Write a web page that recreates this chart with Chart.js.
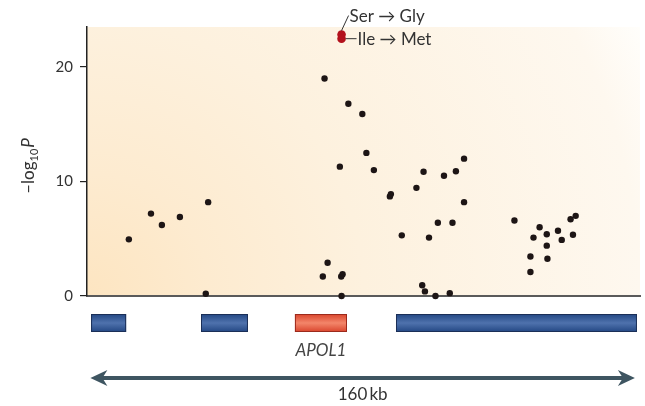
<!DOCTYPE html>
<html>
<head>
<meta charset="utf-8">
<script src="https://cdn.jsdelivr.net/npm/chart.js@4.4.1/dist/chart.umd.min.js"></script>
<style>
  body { margin: 0; background: #fff; }
</style>
</head>
<body>
<canvas id="myChart" width="645" height="406"></canvas>
<script>
// SNP positions (kb) and -log10 P values
var snpKb = [11.3, 17.8, 21.0, 26.3, 34.6, 33.9, 68.3, 69.7, 68.8, 73.3, 73.7, 74.1, 73.8,
    75.8, 79.9, 81.1, 83.3, 88.0, 88.3, 91.5, 95.8, 97.9, 97.5, 98.3, 99.5, 101.4, 102.1,
    103.9, 105.6, 106.4, 107.4, 109.8, 109.8, 124.6, 129.3, 129.3, 130.2, 132.0, 134.1,
    134.1, 134.3, 137.4, 138.5, 141.1, 141.8, 142.6];
var snpLogP = [4.95, 7.2, 6.2, 6.9, 8.2, 0.2, 1.7, 2.9, 19.0, 11.3, 1.7, 1.9, 0.0,
    16.8, 15.9, 12.5, 11.0, 8.7, 8.9, 5.3, 9.45, 10.85, 0.94, 0.4, 5.1, 0.0, 6.4,
    10.5, 0.25, 6.4, 10.9, 12.0, 8.2, 6.6, 2.1, 3.45, 5.1, 6.0, 5.4,
    4.4, 3.25, 5.7, 4.9, 6.7, 5.35, 7.0];

// the two coding variants (Ser->Gly, Ile->Met)
var variantKb = [73.8, 73.8];
var variantLogP = [22.84, 22.48];
var variantLabels = ['Ser \u2192 Gly', 'Ile \u2192 Met'];

// genes in the region
var geneStart = [0.2, 32.5, 60.1, 89.8];
var geneEnd = [10.5, 46.3, 75.4, 160.6];
var geneLabel = ['', '', 'APOL1', ''];
var highlightGene = 'APOL1';

var yTicks = [0, 10, 20];
var regionKb = [0, 160];
var regionLabel = '160\u2009kb';

var FONT = 'Lato, "Open Sans", sans-serif';

function toPoints(xs, ys) {
    return xs.map(function (x, i) { return { x: x, y: ys[i] }; });
}

var background = {
    id: 'background',
    beforeDraw: function (chart) {
        var a = chart.chartArea, ctx = chart.ctx;
        var r = Math.hypot(a.right - a.left, a.bottom - a.top);
        var g = ctx.createRadialGradient(a.left, a.bottom, 0, a.left, a.bottom, r);
        g.addColorStop(0, '#fde5c1');
        g.addColorStop(0.2, '#fdebd0');
        g.addColorStop(0.45, '#fdf1de');
        g.addColorStop(0.9, '#fef8ef');
        g.addColorStop(1, '#fffefb');
        ctx.save();
        ctx.fillStyle = g;
        ctx.fillRect(a.left, a.top, a.right - a.left, a.bottom - a.top);
        ctx.restore();
    }
};

var extras = {
    id: 'extras',
    afterDraw: function (chart) {
        var ctx = chart.ctx, xs = chart.scales.x, ys = chart.scales.y;
        ctx.save();

        // y axis title: -log10 P
        ctx.translate(29, 166);
        ctx.rotate(-Math.PI / 2);
        ctx.fillStyle = '#333';
        ctx.textBaseline = 'middle';
        ctx.font = '17px ' + FONT;
        var t1 = '\u2013log', w1 = ctx.measureText(t1).width;
        ctx.font = '11px ' + FONT;
        var t2 = '10', w2 = ctx.measureText(t2).width;
        ctx.font = 'italic 17px ' + FONT;
        var w3 = ctx.measureText('P').width;
        var sx = -(w1 + w2 + w3 + 1) / 2;
        ctx.font = '17px ' + FONT;
        ctx.fillText(t1, sx, 0);
        ctx.font = '11px ' + FONT;
        ctx.fillText(t2, sx + w1, 5);
        ctx.font = 'italic 17px ' + FONT;
        ctx.fillText('P', sx + w1 + w2 + 1, 0);
        ctx.restore();

        // variant annotations
        var vx = xs.getPixelForValue(variantKb[0]);
        var vTop = ys.getPixelForValue(variantLogP[0]) - 4;
        var vLow = ys.getPixelForValue(variantLogP[1]);
        ctx.save();
        ctx.strokeStyle = '#333';
        ctx.lineWidth = 1;
        ctx.beginPath();
        ctx.moveTo(vx, vTop);
        ctx.lineTo(vx + 7, vTop - 15);
        ctx.moveTo(vx + 4, vLow);
        ctx.lineTo(vx + 15, vLow);
        ctx.stroke();
        ctx.fillStyle = '#333';
        ctx.font = '17px ' + FONT;
        ctx.textBaseline = 'middle';
        ctx.fillText(variantLabels[0], vx + 8, vTop - 14);
        ctx.fillText(variantLabels[1], vx + 16, vLow + 1);
        ctx.restore();

        // gene models
        var top = 314, bot = 332;
        for (var i = 0; i < geneStart.length; i++) {
            var x0 = xs.getPixelForValue(geneStart[i]);
            var x1 = xs.getPixelForValue(geneEnd[i]);
            var hot = geneLabel[i] === highlightGene;
            var g = ctx.createLinearGradient(0, top, 0, bot);
            if (hot) {
                g.addColorStop(0, '#d9442c');
                g.addColorStop(0.5, '#f3866a');
                g.addColorStop(1, '#d9442c');
            } else {
                g.addColorStop(0, '#234783');
                g.addColorStop(0.5, '#4f72ad');
                g.addColorStop(1, '#234783');
            }
            ctx.fillStyle = g;
            ctx.fillRect(x0, top, x1 - x0, bot - top);
            ctx.strokeStyle = hot ? '#9c2a1c' : '#1b2f57';
            ctx.lineWidth = 1;
            ctx.strokeRect(x0 + 0.5, top + 0.5, x1 - x0 - 1, bot - top - 1);
            if (geneLabel[i]) {
                ctx.fillStyle = '#444';
                ctx.font = 'italic 17px ' + FONT;
                ctx.textAlign = 'center';
                ctx.textBaseline = 'middle';
                ctx.fillText(geneLabel[i], (x0 + x1) / 2, 351);
                ctx.textAlign = 'left';
            }
        }

        // scale arrow
        var a0 = xs.getPixelForValue(regionKb[0]);
        var a1 = xs.getPixelForValue(regionKb[1]);
        var ay = 378;
        ctx.strokeStyle = '#3e5561';
        ctx.fillStyle = '#3e5561';
        ctx.lineWidth = 4;
        ctx.beginPath();
        ctx.moveTo(a0 + 6, ay);
        ctx.lineTo(a1 - 6, ay);
        ctx.stroke();
        ctx.beginPath();
        ctx.moveTo(a0, ay);
        ctx.lineTo(a0 + 17, ay - 8);
        ctx.lineTo(a0 + 12, ay);
        ctx.lineTo(a0 + 17, ay + 8);
        ctx.closePath();
        ctx.fill();
        ctx.beginPath();
        ctx.moveTo(a1, ay);
        ctx.lineTo(a1 - 17, ay - 8);
        ctx.lineTo(a1 - 12, ay);
        ctx.lineTo(a1 - 17, ay + 8);
        ctx.closePath();
        ctx.fill();
        ctx.fillStyle = '#333';
        ctx.font = '17px ' + FONT;
        ctx.textAlign = 'center';
        ctx.textBaseline = 'middle';
        ctx.fillText(regionLabel, (a0 + a1) / 2, 395);
        ctx.restore();
    }
};

var ctx = document.getElementById('myChart').getContext('2d');
var chart = new Chart(ctx, {
    type: 'scatter',
    data: {
        datasets: [{
            data: toPoints(snpKb, snpLogP),
            backgroundColor: '#1d1515',
            borderWidth: 0,
            pointRadius: 3.2,
            clip: false
        }, {
            data: toPoints(variantKb, variantLogP),
            backgroundColor: '#b3111c',
            borderWidth: 0,
            pointRadius: 4.3,
            clip: false
        }]
    },
    options: {
        responsive: false,
        animation: false,
        layout: { padding: { left: 0, right: 5, top: 27, bottom: 110 } },
        plugins: { legend: { display: false }, tooltip: { enabled: false } },
        scales: {
            x: {
                type: 'linear',
                min: -1,
                max: 161.5,
                ticks: { display: false },
                grid: { display: true, drawOnChartArea: false, drawTicks: false },
                border: { display: true, color: '#5a5a5a', width: 2 },
                afterFit: function (s) { s.height = 0; }
            },
            y: {
                min: 0,
                max: 23.5,
                afterBuildTicks: function (s) {
                    s.ticks = yTicks.map(function (v) { return { value: v }; });
                },
                ticks: { color: '#333', font: { family: FONT, size: 15 }, padding: 7 },
                grid: { drawOnChartArea: false, tickLength: 7, color: '#222', lineWidth: 1.2 },
                border: { display: true, color: '#222', width: 1.5 },
                afterFit: function (s) { s.width = 87; }
            }
        }
    },
    plugins: [background, extras]
});
</script>
</body>
</html>
